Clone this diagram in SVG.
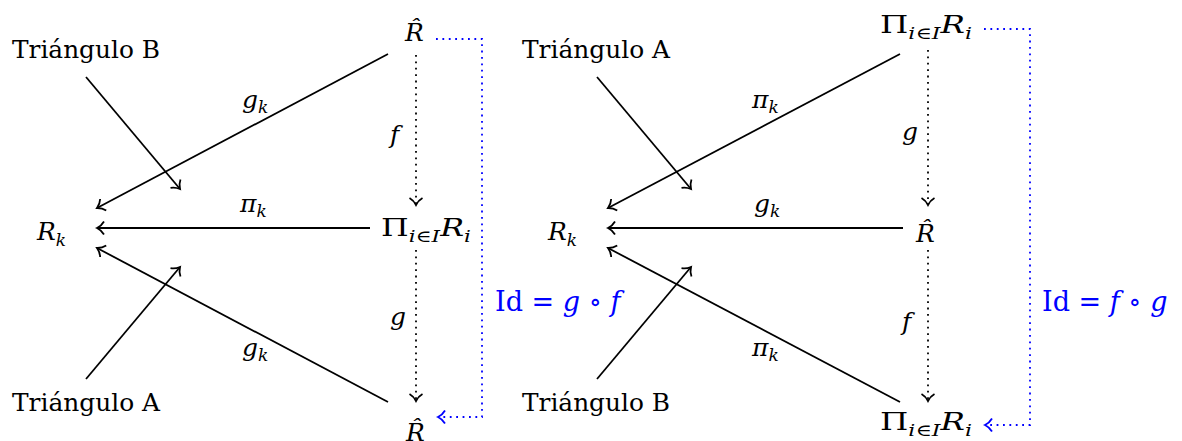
<svg xmlns="http://www.w3.org/2000/svg" width="1182" height="441" viewBox="0 0 1182 441">
<style>
text{font-family:'DejaVu Serif','Liberation Serif',serif;font-size:25px;fill:#000}
.it{font-style:italic}
.sub{font-size:17px;font-style:italic}
.blue{fill:#0000ff;font-size:27px}
.solid{stroke:#000;stroke-width:1.8;fill:none}
.dot{stroke:#000;stroke-width:1.8;fill:none;stroke-dasharray:1.8 4.6}
.bdot{stroke:#0000ff;stroke-width:1.8;fill:none;stroke-dasharray:1.8 4.6}
</style>
<defs>
<marker id="ah" markerUnits="userSpaceOnUse" markerWidth="20" markerHeight="20" viewBox="-10 -10 20 20" refX="0" refY="0" orient="auto">
<path d="M -7 -6.5 C -5 -3 -2 -1 0 0 C -2 1 -5 3 -7 6.5" stroke="#000" stroke-width="1.8" fill="none"/>
</marker>
<marker id="ahb" markerUnits="userSpaceOnUse" markerWidth="20" markerHeight="20" viewBox="-10 -10 20 20" refX="0" refY="0" orient="auto">
<path d="M -7 -6.5 C -5 -3 -2 -1 0 0 C -2 1 -5 3 -7 6.5" stroke="#0000ff" stroke-width="1.8" fill="none"/>
</marker>
</defs>

<g id="connectors">
<line class="solid" x1="388" y1="54" x2="97" y2="208" marker-end="url(#ah)"/>
<line class="solid" x1="370" y1="228" x2="97" y2="228" marker-end="url(#ah)"/>
<line class="solid" x1="388" y1="402" x2="97" y2="248" marker-end="url(#ah)"/>
<line class="solid" x1="86" y1="77" x2="180" y2="189" marker-end="url(#ah)"/>
<line class="solid" x1="86" y1="379" x2="180" y2="267" marker-end="url(#ah)"/>
<line class="dot" x1="416" y1="55" x2="416" y2="205" marker-end="url(#ah)"/>
<line class="dot" x1="416" y1="250" x2="416" y2="401" marker-end="url(#ah)"/>
<polyline class="bdot" points="436,39 482,39 482,417 438,417" marker-end="url(#ahb)"/>
<line class="solid" x1="900" y1="54" x2="608" y2="208" marker-end="url(#ah)"/>
<line class="solid" x1="903" y1="228" x2="608" y2="228" marker-end="url(#ah)"/>
<line class="solid" x1="900" y1="402" x2="608" y2="248" marker-end="url(#ah)"/>
<line class="solid" x1="597" y1="77" x2="691" y2="189" marker-end="url(#ah)"/>
<line class="solid" x1="597" y1="379" x2="691" y2="267" marker-end="url(#ah)"/>
<line class="dot" x1="928" y1="50" x2="928" y2="205" marker-end="url(#ah)"/>
<line class="dot" x1="928" y1="250" x2="928" y2="401" marker-end="url(#ah)"/>
<polyline class="bdot" points="984,29 1030,29 1030,425 985,425" marker-end="url(#ahb)"/>
</g>

<g id="L-Rk"><text x="37" y="240"><tspan class="it">R</tspan><tspan class="sub" dy="6">k</tspan></text></g>
<g id="L-TriB"><text x="12" y="58" textLength="148" lengthAdjust="spacingAndGlyphs">Triángulo B</text></g>
<g id="L-TriA"><text x="12" y="411" textLength="148" lengthAdjust="spacingAndGlyphs">Triángulo A</text></g>
<g id="L-Rhat-top"><text class="it" x="405" y="41">R̂</text></g>
<g id="L-Prod"><text x="381" y="236" textLength="90" lengthAdjust="spacingAndGlyphs">Π<tspan class="sub" dy="6">i∈I</tspan><tspan class="it" dy="-6">R</tspan><tspan class="sub" dy="6">i</tspan></text></g>
<g id="L-Rhat-bot"><text class="it" x="406" y="441">R̂</text></g>
<g id="L-labels">
<text x="242" y="108"><tspan class="it">g</tspan><tspan class="sub" dy="5">k</tspan></text>
<text x="240" y="212"><tspan class="it">π</tspan><tspan class="sub" dy="5">k</tspan></text>
<text x="242" y="356"><tspan class="it">g</tspan><tspan class="sub" dy="5">k</tspan></text>
<text class="it" x="390" y="143">f</text>
<text class="it" x="390" y="325">g</text>
<text class="blue" x="495" y="311">Id = <tspan class="it">g</tspan> ∘ <tspan class="it">f</tspan></text>
</g>

<g id="R-Rk"><text x="548" y="240"><tspan class="it">R</tspan><tspan class="sub" dy="6">k</tspan></text></g>
<g id="R-TriA"><text x="522" y="58" textLength="148" lengthAdjust="spacingAndGlyphs">Triángulo A</text></g>
<g id="R-TriB"><text x="522" y="411" textLength="148" lengthAdjust="spacingAndGlyphs">Triángulo B</text></g>
<g id="R-Prod-top"><text x="880" y="33" textLength="92" lengthAdjust="spacingAndGlyphs">Π<tspan class="sub" dy="6">i∈I</tspan><tspan class="it" dy="-6">R</tspan><tspan class="sub" dy="6">i</tspan></text></g>
<g id="R-Rhat"><text class="it" x="916" y="242">R̂</text></g>
<g id="R-Prod-bot"><text x="880" y="430" textLength="92" lengthAdjust="spacingAndGlyphs">Π<tspan class="sub" dy="6">i∈I</tspan><tspan class="it" dy="-6">R</tspan><tspan class="sub" dy="6">i</tspan></text></g>
<g id="R-labels">
<text x="752" y="108"><tspan class="it">π</tspan><tspan class="sub" dy="5">k</tspan></text>
<text x="754" y="212"><tspan class="it">g</tspan><tspan class="sub" dy="5">k</tspan></text>
<text x="752" y="356"><tspan class="it">π</tspan><tspan class="sub" dy="5">k</tspan></text>
<text class="it" x="902" y="140">g</text>
<text class="it" x="902" y="330">f</text>
<text class="blue" x="1042" y="311">Id = <tspan class="it">f</tspan> ∘ <tspan class="it">g</tspan></text>
</g>
</svg>
